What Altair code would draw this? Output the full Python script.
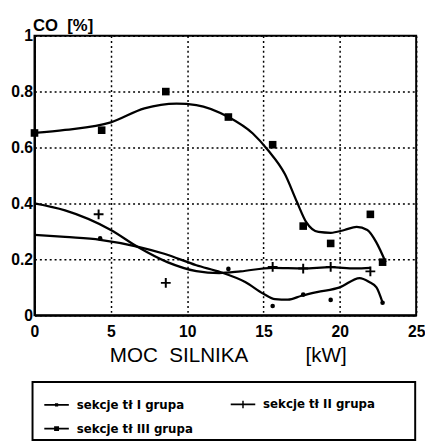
import altair as alt
import pandas as pd

S1 = "sekcje tł I grupa"
S2 = "sekcje tł II grupa"
S3 = "sekcje tł III grupa"
series_names = [S1, S2, S3]

# measured points
p1_x = [4.3, 12.7, 15.6, 17.6, 19.4, 22.8]
p1_y = [0.275, 0.166, 0.033, 0.074, 0.055, 0.045]
p2_x = [4.2, 8.6, 15.6, 17.6, 19.4, 22.0]
p2_y = [0.361, 0.116, 0.173, 0.167, 0.173, 0.157]
p3_x = [0, 4.4, 8.6, 12.7, 15.6, 17.6, 19.4, 22.0, 22.8]
p3_y = [0.652, 0.662, 0.80, 0.709, 0.61, 0.319, 0.257, 0.361, 0.19]

# fitted curves
c1_x = [0, 2, 4.3, 6.8, 8.5, 10.6, 12.2, 13.8, 15, 15.75, 16.6, 17.5, 18.5, 20, 21.3, 21.9, 22.4, 22.8]
c1_y = [0.288, 0.28, 0.27, 0.245, 0.22, 0.179, 0.154, 0.119, 0.077, 0.058, 0.056, 0.07, 0.083, 0.10, 0.133, 0.12, 0.10, 0.045]
c2_x = [0, 2, 5, 6.8, 8.7, 10.6, 12.1, 13.5, 15.6, 17.6, 19.4, 21, 22]
c2_y = [0.40, 0.375, 0.305, 0.243, 0.19, 0.158, 0.151, 0.157, 0.17, 0.168, 0.172, 0.168, 0.17]
c3_x = [0, 2, 5, 7.2, 9.3, 10.6, 12.7, 14.3, 15.3, 16.4, 17.2, 17.8, 18.6, 19.4, 20.3, 21.1, 21.8, 22.4, 23]
c3_y = [0.652, 0.663, 0.69, 0.74, 0.757, 0.752, 0.709, 0.65, 0.59, 0.505, 0.404, 0.333, 0.298, 0.295, 0.305, 0.316, 0.305, 0.26, 0.19]

x_ticks = [0, 5, 10, 15, 20, 25]
y_ticks = [0, 0.2, 0.4, 0.6, 0.8, 1]

pts = pd.concat([
    pd.DataFrame({"x": p1_x, "y": p1_y, "series": S1}),
    pd.DataFrame({"x": p2_x, "y": p2_y, "series": S2}),
    pd.DataFrame({"x": p3_x, "y": p3_y, "series": S3}),
], ignore_index=True)

curves = pd.concat([
    pd.DataFrame({"x": c1_x, "y": c1_y, "series": S1}),
    pd.DataFrame({"x": c2_x, "y": c2_y, "series": S2}),
    pd.DataFrame({"x": c3_x, "y": c3_y, "series": S3}),
], ignore_index=True)

FONT = "Liberation Sans, Arial, sans-serif"
LFONT = "DejaVu Sans, sans-serif"
NB = "\u00a0"

xs = alt.Scale(domain=[0, 25], nice=False)
ys = alt.Scale(domain=[0, 1], nice=False)

xax = alt.Axis(values=x_ticks, format="~g", grid=True, ticks=False,
               title="MOC" + NB * 2 + "SILNIKA" + NB * 10 + "[kW]",
               titleFont=FONT, titleFontSize=21, titleFontWeight="normal",
               titleBaseline="alphabetic", titleY=47, titleX=197,
               labelFont=FONT, labelFontSize=16, labelFontWeight="bold",
               labelPadding=9, labelFlush=False)
yax = alt.Axis(values=y_ticks, format="~g", grid=True, ticks=False,
               title="CO" + NB * 2 + "[%]", titleAngle=0, titleAlign="left",
               titleBaseline="alphabetic", titleX=-2, titleY=-5,
               titleFont=FONT, titleFontSize=17, titleFontWeight="bold",
               labelFont=FONT, labelFontSize=16, labelFontWeight="bold",
               labelPadding=2, labelFlush=False)

lines = alt.Chart(curves).mark_line(interpolate="monotone", color="black", strokeWidth=2.3).encode(
    x=alt.X("x:Q", scale=xs, axis=xax),
    y=alt.Y("y:Q", scale=ys, axis=yax),
    detail="series:N",
)

plus_path = "M-1,-0.2H1V0.2H-1Z M-0.2,-1H0.2V1H-0.2Z"

pt1 = alt.Chart(pts).transform_filter(alt.datum.series == S1).mark_point(
    shape="circle", filled=True, color="black", size=22, opacity=1).encode(x="x:Q", y="y:Q")
pt2 = alt.Chart(pts).transform_filter(alt.datum.series == S2).mark_point(
    shape=plus_path, filled=True, color="black", size=100, opacity=1).encode(x="x:Q", y="y:Q")
pt3 = alt.Chart(pts).transform_filter(alt.datum.series == S3).mark_point(
    shape="square", filled=True, color="black", size=60, opacity=1).encode(x="x:Q", y="y:Q")

legend_paths = [
    "M-1,-0.07H1V0.07H-1Z M-0.13,-0.13H0.13V0.13H-0.13Z",
    "M-1,-0.07H1V0.07H-1Z M-0.06,-0.3H0.06V0.3H-0.06Z",
    "M-1,-0.08H1V0.08H-1Z M-0.2,-0.2H0.2V0.2H-0.2Z",
]

leg = alt.Chart(pts).transform_filter("false").mark_point(
    filled=True, color="black", opacity=1).encode(
    x="x:Q", y="y:Q",
    shape=alt.Shape("series:N",
                    scale=alt.Scale(domain=series_names, range=legend_paths),
                    legend=alt.Legend(title=None, orient="none", legendX=-2, legendY=356,
                                      direction="horizontal",
                                      columns=2, columnPadding=32, rowPadding=4, padding=6,
                                      symbolSize=625, symbolOffset=5,
                                      symbolFillColor="black", symbolOpacity=1,
                                      labelFont=LFONT, labelFontSize=12, labelFontWeight="bold",
                                      labelOffset=7)),
)

# frame drawn around the legend (decoration, in pixels of the plot area)
frame = alt.Chart(pd.DataFrame({"k": [0]})).mark_rect(
    fill="white", fillOpacity=0, stroke="black", strokeWidth=2, clip=False).encode(
    x=alt.value(-2), x2=alt.value(388), y=alt.value(353), y2=alt.value(412))

chart = alt.layer(lines, pt1, pt2, pt3, frame, leg).properties(
    width=389, height=285,
    autosize=alt.AutoSizeParams(type="none"),
    padding={"left": 27, "top": 24, "right": 9, "bottom": 128},
).configure_view(stroke="black", strokeWidth=2).configure_axis(
    gridColor="black", gridDash=[2, 3], gridWidth=1.5, gridOpacity=1,
    domainColor="black", domainWidth=2, labelColor="black", titleColor="black",
)

chart.save("out.html", embed_options={"renderer": "svg", "actions": False})
